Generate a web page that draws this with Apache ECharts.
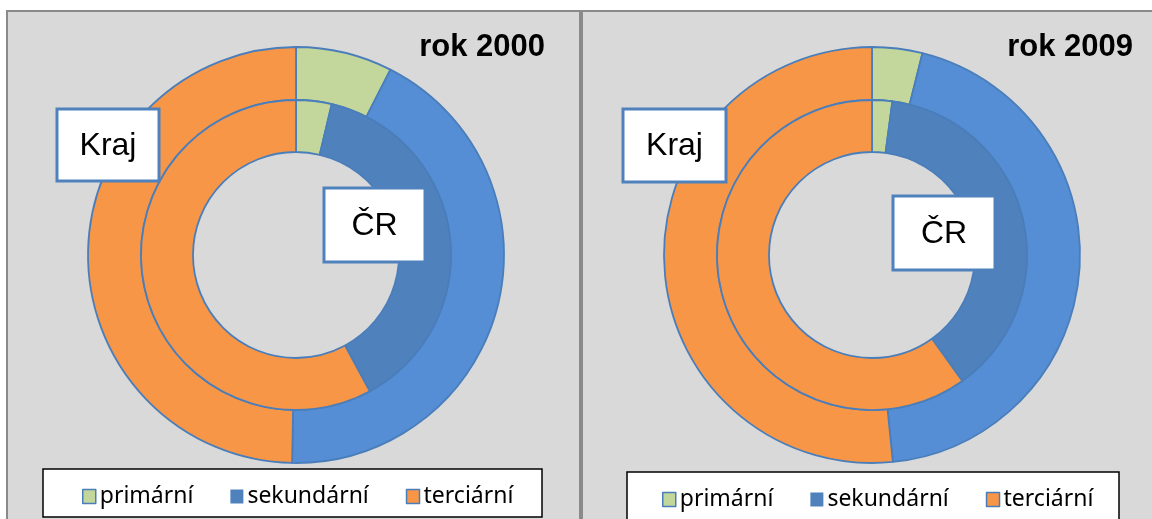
<!DOCTYPE html>
<html>
<head>
<meta charset="utf-8">
<script src="https://cdn.jsdelivr.net/npm/echarts/dist/echarts.min.js"></script>
<style>
  html, body { margin: 0; padding: 0; background: #fff; }
  #chart { width: 1152px; height: 519px; }
</style>
</head>
<body>
<div id="chart"></div>
<script>
// sektory
var categories = ['primární', 'sekundární', 'terciární'];
// podíly v %
var kraj2000 = [7.5, 42.8, 49.7];
var cr2000 = [3.7, 38.4, 57.9];
var kraj2009 = [3.9, 44.5, 51.6];
var cr2009 = [2.1, 38.0, 59.9];
var years = ['rok 2000', 'rok 2009'];

var outerColors = ['#c3d69b', '#558ed5', '#f79646'];
var innerColors = ['#c3d69b', '#4f81bd', '#f79646'];
var ringBorder = '#4a7ebb';

function ring (name, values, colors, center, radius) {
  return {
    name: name,
    type: 'pie',
    center: center,
    radius: radius,
    startAngle: 90,
    clockwise: true,
    silent: true,
    label: { show: false },
    labelLine: { show: false },
    itemStyle: { borderColor: ringBorder, borderWidth: 1.8 },
    data: values.map(function (v, i) {
      return { name: categories[i], value: v, itemStyle: { color: colors[i] } };
    })
  };
}

function legend (left, top) {
  return {
    left: left,
    top: top,
    icon: 'rect',
    itemWidth: 13,
    itemHeight: 14,
    itemGap: 37,
    selectedMode: false,
    textStyle: { fontFamily: 'Noto Sans', fontSize: 23, color: '#000', padding: [0, 0, 0, -1] },
    data: categories.map(function (c, i) {
      return { name: c, itemStyle: { color: innerColors[i], borderColor: ringBorder, borderWidth: i === 1 ? 0 : 1.5 } };
    })
  };
}

function labelBox (x, y, w, h, text) {
  return [
    { type: 'rect', z: 100, shape: { x: x, y: y, width: w, height: h },
      style: { fill: '#fff', stroke: '#4f81bd', lineWidth: 3 } },
    { type: 'text', z: 101, style: { text: text, x: x + w / 2, y: y + h / 2 + 1, align: 'center', verticalAlign: 'middle',
      font: '32px "Liberation Sans"', fill: '#000' } }
  ];
}

var graphics = [
  { type: 'rect', z: -10, shape: { x: 7, y: 11, width: 573, height: 530 },
    style: { fill: '#d9d9d9', stroke: '#8a8a8a', lineWidth: 2 } },
  { type: 'rect', z: -10, shape: { x: 582, y: 11, width: 600, height: 530 },
    style: { fill: '#d9d9d9', stroke: '#8a8a8a', lineWidth: 2 } },
  { type: 'rect', z: -5, shape: { x: 43, y: 469, width: 499, height: 48 },
    style: { fill: '#fff', stroke: '#000', lineWidth: 1.5 } },
  { type: 'rect', z: -5, shape: { x: 627, y: 472, width: 492, height: 60 },
    style: { fill: '#fff', stroke: '#000', lineWidth: 1.5 } },
  { type: 'text', z: 100, style: { text: years[0], x: 545, y: 47, align: 'right', verticalAlign: 'middle',
    font: 'bold 31px "Liberation Sans"', fill: '#000' } },
  { type: 'text', z: 100, style: { text: years[1], x: 1133, y: 47, align: 'right', verticalAlign: 'middle',
    font: 'bold 31px "Liberation Sans"', fill: '#000' } }
].concat(
  labelBox(57, 109, 102, 72, 'Kraj'),
  labelBox(324, 188, 101, 74, 'ČR'),
  labelBox(623, 109, 103, 73, 'Kraj'),
  labelBox(893, 196, 102, 74, 'ČR')
);

var chart = echarts.init(document.getElementById('chart'));
chart.setOption({
  animation: false,
  backgroundColor: '#fff',
  legend: [legend(77, 480), legend(657, 483)],
  graphic: graphics,
  series: [
    ring('Kraj 2000', kraj2000, outerColors, [296, 255], [155, 208]),
    ring('ČR 2000', cr2000, innerColors, [296, 255], [103, 155]),
    ring('Kraj 2009', kraj2009, outerColors, [872, 255], [155, 208]),
    ring('ČR 2009', cr2009, innerColors, [872, 255], [103, 155])
  ]
});
</script>
</body>
</html>
